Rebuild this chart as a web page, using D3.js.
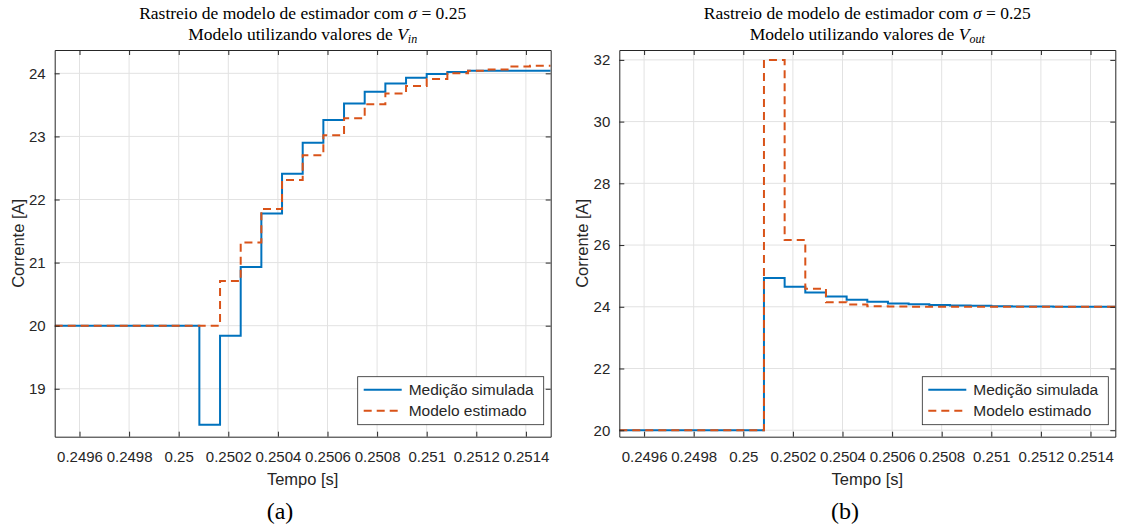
<!DOCTYPE html>
<html>
<head>
<meta charset="utf-8">
<script src="https://cdn.jsdelivr.net/npm/d3@7"></script>
<style>
  body { margin: 0; background: #fff; }
  svg text { fill: #262626; }
</style>
</head>
<body>
<svg id="fig" width="1121" height="528"></svg>
<script>
// Sampling instants (s) where the held values change (zero-order hold)
const stepTimes = [0.2495, 0.2500833, 0.2501667, 0.25025, 0.2503333, 0.2504167, 0.2505,
                   0.2505833, 0.2506667, 0.25075, 0.2508333, 0.2509167, 0.251, 0.2510833,
                   0.2511667, 0.25125, 0.2513333, 0.2514167];
const endTime = 0.2515;

// (a) model driven by V_in
const vinMeasured = [20, 18.43, 19.84, 20.93, 21.78, 22.41, 22.90, 23.26, 23.52, 23.71,
                     23.84, 23.93, 23.99, 24.02, 24.04, 24.04, 24.04, 24.04];
const vinModel    = [20, 20, 20.71, 21.32, 21.85, 22.31, 22.70, 23.02, 23.29, 23.51,
                     23.68, 23.80, 23.91, 24.00, 24.04, 24.06, 24.11, 24.12];

// (b) model driven by V_out
const voutMeasured = [20, 24.93, 24.65, 24.46, 24.33, 24.23, 24.16, 24.11, 24.08, 24.06,
                      24.04, 24.03, 24.02, 24.01, 24.01, 24.0, 24.0, 24.0];
const voutModel    = [20, 32.0, 26.16, 24.58, 24.15, 24.07, 24.02, 24.01, 24.0, 24.0,
                      24.0, 24.0, 24.0, 24.0, 24.0, 24.0, 24.0, 24.0];

// Axis ticks
const xTicks = [0.2496, 0.2498, 0.25, 0.2502, 0.2504, 0.2506, 0.2508, 0.251, 0.2512, 0.2514];
const xTickLabels = ["0.2496", "0.2498", "0.25", "0.2502", "0.2504", "0.2506", "0.2508", "0.251", "0.2512", "0.2514"];
const yTicksA = [19, 20, 21, 22, 23, 24];
const yTicksB = [20, 22, 24, 26, 28, 30, 32];

const seriesNames = ["Medição simulada", "Modelo estimado"];
const colors = ["#0072BD", "#D95319"];

const svg = d3.select("#fig");

function drawPanel(opt) {
  const { left, right, top, bottom } = opt.box;
  const x = d3.scaleLinear().domain([0.2495, 0.2515]).range([left, right]);
  const y = d3.scaleLinear().domain(opt.yDomain).range([bottom, top]);
  const g = svg.append("g");

  // grid
  g.append("g").selectAll("line").data(xTicks).join("line")
    .attr("x1", d => x(d)).attr("x2", d => x(d)).attr("y1", top).attr("y2", bottom)
    .attr("stroke", "#e2e2e2").attr("stroke-width", 1);
  g.append("g").selectAll("line").data(opt.yTicks).join("line")
    .attr("x1", left).attr("x2", right).attr("y1", d => y(d)).attr("y2", d => y(d))
    .attr("stroke", "#e2e2e2").attr("stroke-width", 1);

  // data
  const pts = vals => stepTimes.map((t, i) => [t, vals[i]]).concat([[endTime, vals[vals.length - 1]]]);
  const line = d3.line().x(d => x(d[0])).y(d => y(d[1])).curve(d3.curveStepAfter);
  const clipId = "clip" + opt.id;
  svg.append("clipPath").attr("id", clipId).append("rect")
    .attr("x", left).attr("y", top - 2).attr("width", right - left).attr("height", bottom - top + 4);
  const dg = g.append("g").attr("clip-path", `url(#${clipId})`);
  dg.append("path").attr("d", line(pts(opt.measured)))
    .attr("fill", "none").attr("stroke", colors[0]).attr("stroke-width", 2);
  dg.append("path").attr("d", line(pts(opt.model)))
    .attr("fill", "none").attr("stroke", colors[1]).attr("stroke-width", 2)
    .attr("stroke-dasharray", "8,5");

  // axes with inward ticks on all four sides
  const tl = 5;
  const axB = d3.axisBottom(x).tickValues(xTicks).tickFormat((d, i) => xTickLabels[i]).tickSizeInner(-tl).tickSizeOuter(0).tickPadding(15);
  const axT = d3.axisTop(x).tickValues(xTicks).tickFormat("").tickSizeInner(-tl).tickSizeOuter(0);
  const axL = d3.axisLeft(y).tickValues(opt.yTicks).tickFormat(d3.format("d")).tickSizeInner(-tl).tickSizeOuter(0).tickPadding(9);
  const axR = d3.axisRight(y).tickValues(opt.yTicks).tickFormat("").tickSizeInner(-tl).tickSizeOuter(0);
  const style = sel => {
    sel.selectAll("path").attr("stroke", "#262626");
    sel.selectAll("line").attr("stroke", "#262626");
    sel.selectAll("text").attr("font-family", "Liberation Sans, Arial, sans-serif")
       .attr("font-size", 15).attr("fill", "#262626");
  };
  g.append("g").attr("transform", `translate(0,${bottom})`).call(axB).call(style);
  g.append("g").attr("transform", `translate(0,${top})`).call(axT).call(style);
  g.append("g").attr("transform", `translate(${left},0)`).call(axL).call(style);
  g.append("g").attr("transform", `translate(${right},0)`).call(axR).call(style);

  const cx = (left + right) / 2;
  // axis labels
  g.append("text").attr("x", cx).attr("y", bottom + 48).attr("text-anchor", "middle")
    .attr("font-family", "Liberation Sans, Arial, sans-serif").attr("font-size", 16.5)
    .text("Tempo [s]");
  g.append("text").attr("transform", `translate(${left - 31},${(top + bottom) / 2}) rotate(-90)`)
    .attr("text-anchor", "middle")
    .attr("font-family", "Liberation Sans, Arial, sans-serif").attr("font-size", 16.5)
    .text("Corrente [A]");

  // title
  const tf = "Liberation Serif, Times New Roman, serif";
  const t1 = g.append("text").attr("x", cx).attr("y", top - 31).attr("text-anchor", "middle")
    .attr("font-family", tf).attr("font-size", 17.5).style("fill", "#000");
  t1.append("tspan").text("Rastreio de modelo de estimador com ");
  t1.append("tspan").attr("font-style", "italic").text("σ");
  t1.append("tspan").text(" = 0.25");
  const t2 = g.append("text").attr("x", cx).attr("y", top - 10).attr("text-anchor", "middle")
    .attr("font-family", tf).attr("font-size", 17.5).style("fill", "#000");
  t2.append("tspan").text("Modelo utilizando valores de ");
  t2.append("tspan").attr("font-style", "italic").text("V");
  t2.append("tspan").attr("font-style", "italic").attr("font-size", 12).attr("dy", 3).text(opt.sub);

  // panel caption
  g.append("text").attr("x", opt.captionX).attr("y", 519).attr("text-anchor", "middle")
    .attr("font-family", tf).attr("font-size", 24).style("fill", "#000").text(opt.caption);

  // legend
  const lw = 186, lh = 48;
  const lx = right - 7 - lw, ly = bottom - 12 - lh;
  const lg = g.append("g").attr("transform", `translate(${lx},${ly})`);
  lg.append("rect").attr("width", lw).attr("height", lh)
    .attr("fill", "#fff").attr("stroke", "#262626").attr("stroke-width", 0.8);
  seriesNames.forEach((name, i) => {
    const yy = 13 + i * 21;
    lg.append("line").attr("x1", 6).attr("x2", 44).attr("y1", yy).attr("y2", yy)
      .attr("stroke", colors[i]).attr("stroke-width", 2)
      .attr("stroke-dasharray", i === 1 ? "8,5" : null);
    lg.append("text").attr("x", 51).attr("y", yy + 5)
      .attr("font-family", "Liberation Sans, Arial, sans-serif").attr("font-size", 15.5)
      .text(name);
  });
}

drawPanel({ id: "a", box: { left: 54.7, right: 550.7, top: 50, bottom: 436.7 },
  yDomain: [18.24, 24.37], yTicks: yTicksA, measured: vinMeasured, model: vinModel,
  sub: "in", caption: "(a)", captionX: 280 });
drawPanel({ id: "b", box: { left: 619.3, right: 1115.3, top: 50, bottom: 436.7 },
  yDomain: [19.79, 32.32], yTicks: yTicksB, measured: voutMeasured, model: voutModel,
  sub: "out", caption: "(b)", captionX: 845 });
</script>
</body>
</html>
